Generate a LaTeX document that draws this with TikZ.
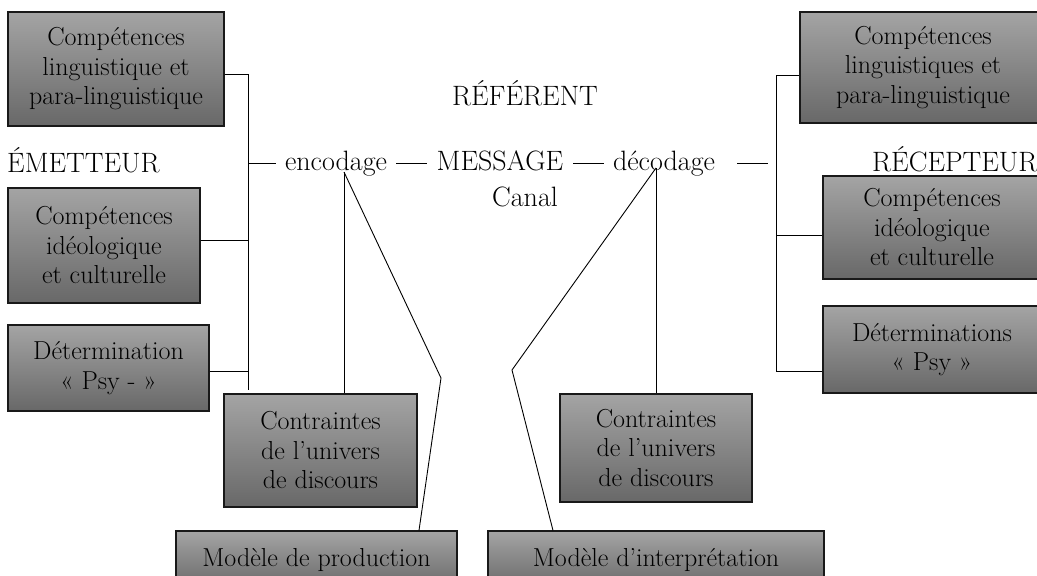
\documentclass[tikz,border=0pt]{standalone}
\usepackage{tikz}
\definecolor{boxtop}{RGB}{164,164,164}
\definecolor{boxbot}{RGB}{104,104,104}
\definecolor{boxline}{RGB}{25,25,25}

\begin{document}
\begin{tikzpicture}[x=1pt,y=-1pt,
    cbox/.style={draw=boxline,line width=1.1pt,top color=boxtop,bottom color=boxbot,
        align=center,inner sep=0pt,font=\fontsize{26}{29.5}\selectfont},
    lbl/.style={inner sep=0pt,font=\fontsize{28}{30}\selectfont,
        text height=20pt,text depth=6pt},
    wire/.style={line width=0.9pt}]

    \useasboundingbox (0,0) rectangle (1037,576);
    \clip (0,0) rectangle (1037,576);

    % Free labels
    \node[lbl,anchor=base west] (emet) at (7,172) {ÉMETTEUR};
    \node[lbl,anchor=base west] (recep) at (872,171) {RÉCEPTEUR};
    \node[lbl,anchor=base] (refer) at (525,105) {RÉFÉRENT};
    \node[lbl,anchor=base] (enc) at (336,170) {encodage};
    \node[lbl,anchor=base] (msg) at (500,170) {MESSAGE};
    \node[lbl,anchor=base] (dec) at (664,170) {décodage};
    \node[lbl,anchor=base] (canal) at (525,206) {Canal};

    % Emetteur side
    \node[cbox,minimum width=216pt,minimum height=114pt] (lingE) at (116,69)
        {Compétences\\linguistique et\\para-linguistique};
    \node[cbox,minimum width=192pt,minimum height=115pt] (ideoE) at (104,245.5)
        {Compétences\\idéologique\\et culturelle};
    \node[cbox,minimum width=201pt,minimum height=86pt] (psyE) at (108.5,368)
        {Détermination\\«~Psy~-~»};
    \node[cbox,minimum width=193pt,minimum height=113pt] (contrE) at (320.5,450.5)
        {Contraintes\\de l’univers\\de discours};
    \node[cbox,minimum width=281pt,minimum height=58pt] (prod) at (316.5,560)
        {Modèle de production};

    % Recepteur side
    \node[cbox,minimum width=246pt,minimum height=111pt] (lingR) at (923,67.5)
        {Compétences\\linguistiques et\\para-linguistique};
    \node[cbox,minimum width=218pt,minimum height=103pt] (ideoR) at (932,227.5)
        {Compétences\\idéologique\\et culturelle};
    \node[cbox,minimum width=218pt,minimum height=87pt] (psyR) at (932,349.5)
        {Déterminations\\«~Psy~»};
    \node[cbox,minimum width=192pt,minimum height=108pt] (contrR) at (656,448)
        {Contraintes\\de l’univers\\de discours};
    \node[cbox,minimum width=336pt,minimum height=58pt] (interp) at (656,560)
        {Modèle d’interprétation};

    % Left bracket
    \coordinate (sL1) at (248,74);
    \coordinate (sL2) at (248,240);
    \coordinate (sL3) at (248,371);
    \coordinate (sLend) at (248,390);
    \coordinate (sLmid) at (248,163);
    \draw[wire] (sL1) -- (sLend);
    \draw[wire] (sL1 -| lingE.east) -- (sL1);
    \draw[wire] (sL2 -| ideoE.east) -- (sL2);
    \draw[wire] (sL3 -| psyE.east) -- (sL3);

    % Right bracket
    \coordinate (sR1) at (776,75);
    \coordinate (sR2) at (776,235);
    \coordinate (sR3) at (776,371);
    \coordinate (sRmid) at (768,163);
    \draw[wire] (sR1) -- (sR3);
    \draw[wire] (sR1) -- (sR1 -| lingR.west);
    \draw[wire] (sR2) -- (sR2 -| ideoR.west);
    \draw[wire] (sR3) -- (sR3 -| psyR.west);

    % Chain of the message
    \draw[wire,shorten >=9pt] (sLmid) -- (enc.west);
    \draw[wire,shorten <=9pt,shorten >=10pt] (enc.east) -- (msg.west);
    \draw[wire,shorten <=10pt,shorten >=9pt] (msg.east) -- (dec.west);
    \draw[wire,shorten <=22pt] (dec.east) -- (sRmid);

    % Encodage links
    \coordinate (encpt) at (344,172);
    \coordinate (encbend) at (441,378);
    \draw[wire] (encpt) -- (encpt |- contrE.north);
    \draw[wire] (encpt) -- (encbend) -- (prod.north -| 419,0);

    % Decodage links
    \coordinate (decpt) at (656,168);
    \coordinate (decbend) at (512,370);
    \draw[wire] (decpt) -- (decpt |- contrR.north);
    \draw[wire] (decpt) -- (decbend) -- (interp.north -| 553,0);
\end{tikzpicture}
\end{document}
